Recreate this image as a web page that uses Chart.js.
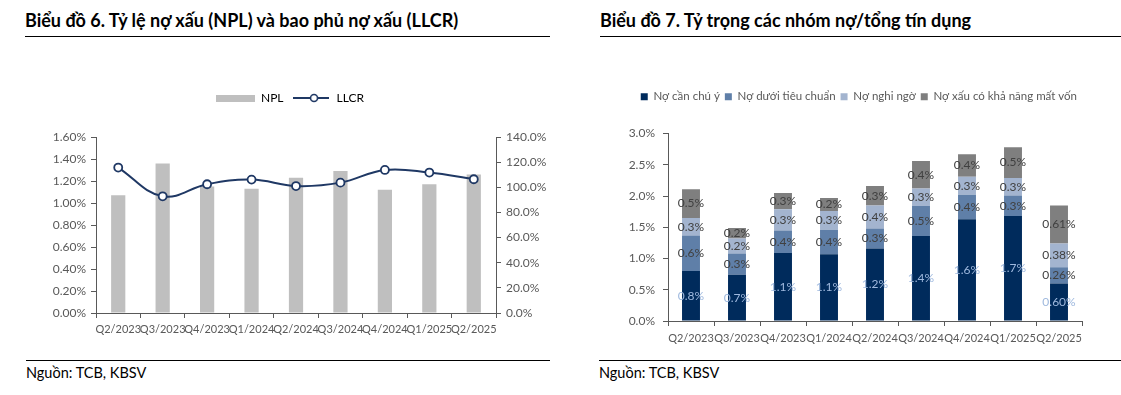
<!DOCTYPE html>
<html>
<head>
<meta charset="utf-8">
<title>TCB - NPL, LLCR và cơ cấu nhóm nợ</title>
<script src="https://cdn.jsdelivr.net/npm/chart.js"></script>
<style>
  body { margin: 0; width: 1121px; height: 395px; background: #fff; position: relative; overflow: hidden; font-family: Lato, sans-serif; }
  .title { position: absolute; top: 9px; height: 28px; border-bottom: 1.5px solid #000; font: bold 18px Lato, sans-serif; color: #000; box-sizing: border-box; }
  .source { position: absolute; top: 360px; border-top: 1.5px solid #000; padding-top: 3px; font: 14.5px Lato, sans-serif; color: #000; }
  .box { position: absolute; }
</style>
</head>
<body>
  <div class="title" style="left:25px; width:525px;">Biểu đồ 6. Tỷ lệ nợ xấu (NPL) và bao phủ nợ xấu (LLCR)</div>
  <div class="title" style="left:600px; width:521px;">Biểu đồ 7. Tỷ trọng các nhóm nợ/tổng tín dụng</div>

  <div class="box" style="left:25px; top:45px; width:530px; height:300px;"><canvas id="nplChart"></canvas></div>
  <div class="box" style="left:600px; top:45px; width:510px; height:310px;"><canvas id="groupChart"></canvas></div>

  <div class="source" style="left:26px; width:524px;">Nguồn: TCB, KBSV</div>
  <div class="source" style="left:599px; width:522px;">Nguồn: TCB, KBSV</div>

<script>
  // du lieu doc tu hinh
  const quarters = ['Q2/2023', 'Q3/2023', 'Q4/2023', 'Q1/2024', 'Q2/2024', 'Q3/2024', 'Q4/2024', 'Q1/2025', 'Q2/2025'];
  const npl = [1.07, 1.36, 1.15, 1.13, 1.23, 1.29, 1.12, 1.17, 1.26];
  const llcr = [115.7, 92.8, 102.4, 106.1, 101.0, 103.7, 113.8, 111.7, 106.4];

  const canChuY = [0.80, 0.74, 1.09, 1.07, 1.16, 1.36, 1.63, 1.68, 0.60];
  const duoiTieuChuan = [0.57, 0.34, 0.36, 0.39, 0.32, 0.48, 0.39, 0.33, 0.26];
  const nghiNgo = [0.28, 0.24, 0.34, 0.30, 0.37, 0.28, 0.29, 0.28, 0.38];
  const matVon = [0.46, 0.17, 0.26, 0.21, 0.31, 0.44, 0.36, 0.49, 0.61];
  const labelDigits = [1, 1, 1, 1, 1, 1, 1, 1, 2];

  const axisColor = '#595959';
  const textColor = '#595959';
  const navy = '#1f3864';

  // khoang trong duoi legend
  const legendGap = extra => ({
    id: 'legendGap',
    beforeInit(chart) {
      const fit = chart.legend.fit;
      chart.legend.fit = function () {
        fit.bind(chart.legend)();
        this.height += extra;
      };
    }
  });

  // icon cho legend bieu do 6
  const nplIcon = document.createElement('canvas');
  nplIcon.width = 39; nplIcon.height = 7;
  nplIcon.getContext('2d').fillStyle = '#bfbfbf';
  nplIcon.getContext('2d').fillRect(0, 0, 39, 7);

  const llcrIcon = document.createElement('canvas');
  llcrIcon.width = 36; llcrIcon.height = 10;
  {
    const c = llcrIcon.getContext('2d');
    c.strokeStyle = navy; c.lineWidth = 2;
    c.beginPath(); c.moveTo(0, 5); c.lineTo(36, 5); c.stroke();
    c.fillStyle = '#fff'; c.lineWidth = 1.6;
    c.beginPath(); c.arc(21, 5, 3.5, 0, Math.PI * 2); c.fill(); c.stroke();
  }

  const tickFont = { family: 'Lato', size: 12 };

  new Chart(document.getElementById('nplChart'), {
    type: 'bar',
    data: {
      labels: quarters,
      datasets: [{
        label: 'NPL',
        data: npl,
        backgroundColor: '#bfbfbf',
        categoryPercentage: 1,
        barPercentage: 0.32,
        yAxisID: 'y',
        order: 1
      }, {
        type: 'line',
        label: 'LLCR',
        data: llcr,
        borderColor: navy,
        borderWidth: 2,
        pointRadius: 4,
        pointBorderWidth: 1.8,
        pointBackgroundColor: '#fff',
        pointBorderColor: navy,
        tension: 0.4,
        yAxisID: 'y1',
        order: 0
      }]
    },
    options: {
      responsive: true,
      maintainAspectRatio: false,
      animation: false,
      layout: { padding: { top: 39 } },
      plugins: {
        tooltip: { enabled: false },
        legend: {
          labels: {
            usePointStyle: true,
            pointStyleWidth: 39,
            color: textColor,
            font: { family: 'Lato', size: 12 },
            padding: 8,
            generateLabels: () => [
              { text: 'NPL', pointStyle: nplIcon, fillStyle: '#bfbfbf', lineWidth: 0, datasetIndex: 0 },
              { text: 'LLCR', pointStyle: llcrIcon, fillStyle: '#fff', lineWidth: 0, datasetIndex: 1 }
            ]
          }
        }
      },
      scales: {
        x: {
          grid: { drawOnChartArea: false, tickLength: 5, color: axisColor },
          border: { color: axisColor },
          ticks: { color: textColor, font: { family: 'Lato', size: 11 }, autoSkip: false, maxRotation: 0, padding: 5 },
          afterFit: s => { s.height = 32; }
        },
        y: {
          min: 0, max: 1.6,
          grid: { drawOnChartArea: false, tickLength: 5, color: axisColor },
          border: { color: axisColor },
          ticks: { stepSize: 0.2, color: textColor, font: tickFont, padding: 5, callback: v => v.toFixed(2) + '%' },
          afterFit: s => { s.width = 71; }
        },
        y1: {
          position: 'right',
          min: 0, max: 140,
          grid: { drawOnChartArea: false, tickLength: 5, color: axisColor },
          border: { color: axisColor },
          ticks: { stepSize: 20, color: textColor, font: tickFont, padding: 5, callback: v => v.toFixed(1) + '%' },
          afterFit: s => { s.width = 59; }
        }
      }
    },
    plugins: [legendGap(23)]
  });

  // nhan gia tri tren tung doan cot
  const segmentLabels = {
    id: 'segmentLabels',
    afterDatasetsDraw(chart) {
      const ctx = chart.ctx;
      ctx.save();
      ctx.font = '12px Lato';
      ctx.textAlign = 'center';
      ctx.textBaseline = 'middle';
      chart.data.datasets.forEach((ds, i) => {
        chart.getDatasetMeta(i).data.forEach((bar, j) => {
          ctx.fillStyle = i === 0 ? '#9fb9de' : '#404040';
          ctx.fillText(ds.data[j].toFixed(labelDigits[j]) + '%', bar.x, (bar.y + bar.base) / 2);
        });
      });
      ctx.restore();
    }
  };

  const groupColors = ['#002b5c', '#5f7fa8', '#a3b4cf', '#7f7f7f'];
  const groupNames = ['Nợ cần chú ý', 'Nợ dưới tiêu chuẩn', 'Nợ nghi ngờ', 'Nợ xấu có khả năng mất vốn'];
  const groupData = [canChuY, duoiTieuChuan, nghiNgo, matVon];

  new Chart(document.getElementById('groupChart'), {
    type: 'bar',
    data: {
      labels: quarters,
      datasets: groupData.map((d, i) => ({
        label: groupNames[i],
        data: d,
        backgroundColor: groupColors[i],
        categoryPercentage: 1,
        barPercentage: 0.39
      }))
    },
    options: {
      responsive: true,
      maintainAspectRatio: false,
      animation: false,
      layout: { padding: { top: 41, right: 28 } },
      plugins: {
        tooltip: { enabled: false },
        legend: {
          align: 'end',
          labels: { boxWidth: 7, boxHeight: 7, color: textColor, font: { family: 'Lato', size: 11.5 }, padding: 5 }
        }
      },
      scales: {
        x: {
          stacked: true,
          grid: { drawOnChartArea: false, tickLength: 5, color: axisColor },
          border: { color: axisColor },
          ticks: { color: textColor, font: { family: 'Lato', size: 11 }, autoSkip: false, maxRotation: 0, padding: 6 },
          afterFit: s => { s.height = 34; }
        },
        y: {
          stacked: true,
          min: 0, max: 3,
          grid: { drawOnChartArea: false, tickLength: 5, color: axisColor },
          border: { color: axisColor },
          ticks: { stepSize: 0.5, color: textColor, font: tickFont, padding: 8, callback: v => v.toFixed(1) + '%' },
          afterFit: s => { s.width = 68; }
        }
      }
    },
    plugins: [segmentLabels, legendGap(21)]
  });
</script>
</body>
</html>
